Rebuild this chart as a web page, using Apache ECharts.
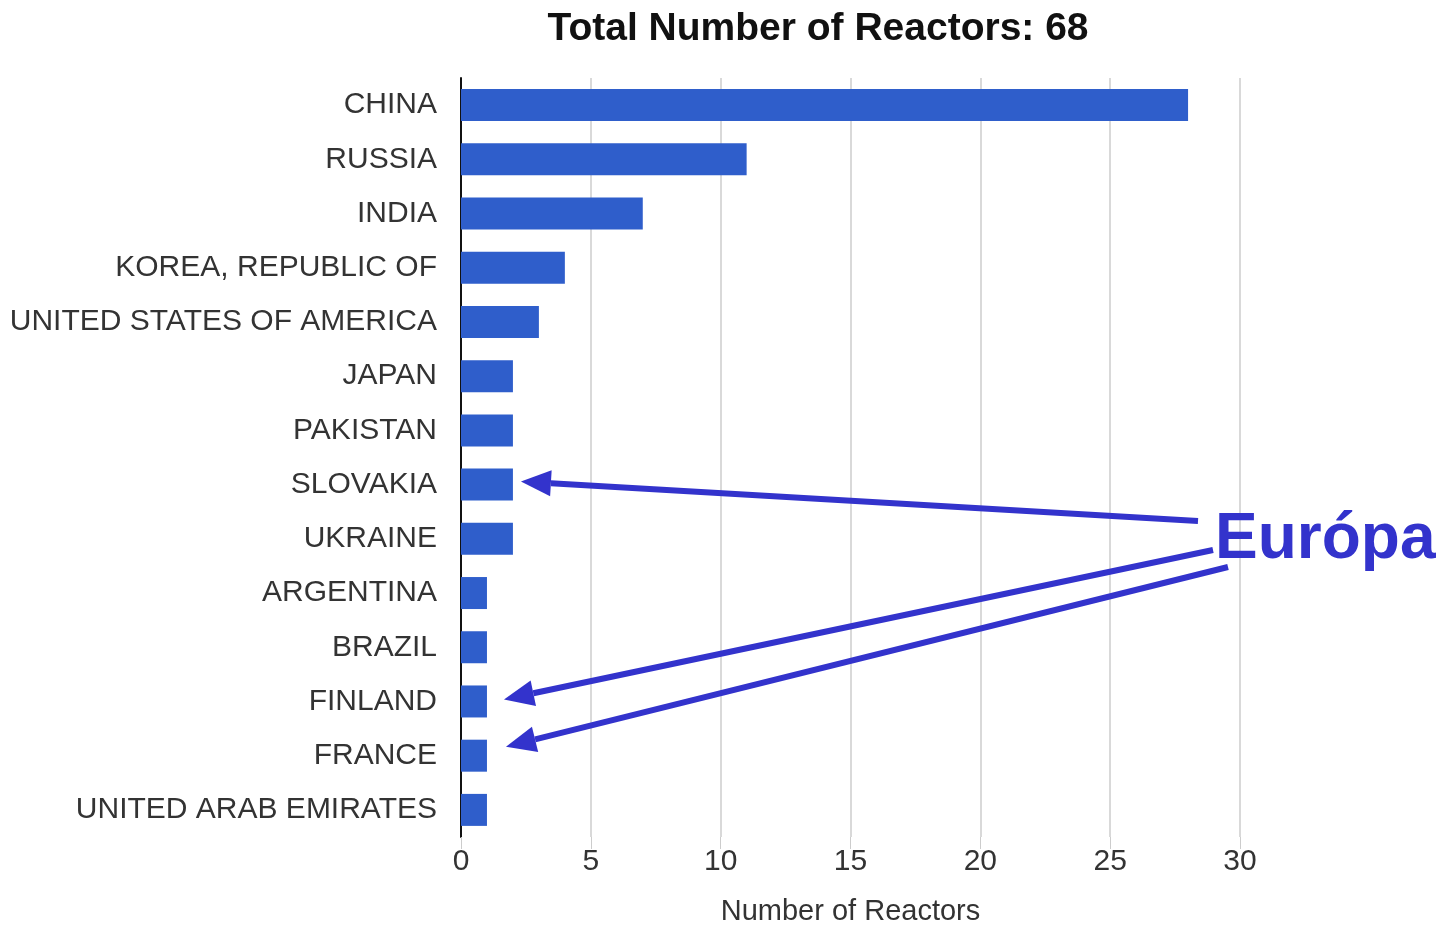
<!DOCTYPE html>
<html>
<head>
<meta charset="utf-8">
<script src="https://cdn.jsdelivr.net/npm/echarts@6/dist/echarts.min.js"></script>
<style>
html,body{margin:0;padding:0;background:#fff;}
#chart{width:1439px;height:926px;}
</style>
</head>
<body>
<div id="chart"></div>
<script>
var countries = ['CHINA','RUSSIA','INDIA','KOREA, REPUBLIC OF','UNITED STATES OF AMERICA','JAPAN','PAKISTAN','SLOVAKIA','UKRAINE','ARGENTINA','BRAZIL','FINLAND','FRANCE','UNITED ARAB EMIRATES'];
var reactors = [28,11,7,4,3,2,2,2,2,1,1,1,1,1];
var xTicks = [0,5,10,15,20,25,30];
var europeTargets = ['SLOVAKIA','FINLAND','FRANCE'];

var myChart = echarts.init(document.getElementById('chart'));
var option = {
	backgroundColor:'#fff',
	title:{
		text:'Total Number of Reactors: 68',
		left:813,
		textAlign:'center',
		top:5,
		textStyle:{fontFamily:'Liberation Sans',fontSize:39,fontWeight:'bold',color:'#111'}
	},
	grid:{left:461,right:199,top:78,bottom:89,containLabel:false,outerBoundsMode:'none'},
	xAxis:{
		type:'value',
		min:xTicks[0],
		max:xTicks[xTicks.length-1],
		interval:5,
		name:'Number of Reactors',
		nameLocation:'middle',
		nameGap:60,
		nameTextStyle:{fontFamily:'Liberation Sans',fontSize:29,color:'#333'},
		axisLine:{show:false},
		axisTick:{show:true,length:12,lineStyle:{color:'#ccc'}},
		axisLabel:{fontFamily:'Liberation Sans',fontSize:30,color:'#333',margin:10},
		splitLine:{show:true,lineStyle:{color:'#ccc',width:1.5}}
	},
	yAxis:{
		type:'category',
		inverse:true,
		data:countries,
		axisLine:{show:true,lineStyle:{color:'#111',width:2}},
		axisTick:{show:false},
		axisLabel:{fontFamily:'Liberation Sans',fontSize:30,color:'#333',margin:24}
	},
	series:[{
		type:'bar',
		data:reactors,
		barWidth:32,
		itemStyle:{color:'#2f5ecb'},
		silent:true
	}]
};
myChart.setOption(option);

// arrows for "Európa"
function arrow(from, to){
	var dx = to[0]-from[0], dy = to[1]-from[1];
	var len = Math.sqrt(dx*dx+dy*dy);
	var ux = dx/len, uy = dy/len;
	var hl = 30, hw = 13;
	var bx = to[0]-ux*hl, by = to[1]-uy*hl;
	var c = '#3333cc';
	return [
		{type:'line',shape:{x1:from[0],y1:from[1],x2:bx,y2:by},style:{stroke:c,lineWidth:6},z:100},
		{type:'polygon',shape:{points:[[to[0],to[1]],[bx-uy*hw,by+ux*hw],[bx+uy*hw,by-ux*hw]]},style:{fill:c},z:100}
	];
}
var starts = [[1198,521],[1213,550],[1228,567]];
var offsets = [[8,-3],[17,-2],[19,-9]];
var els = [];
europeTargets.forEach(function(name, i){
	var idx = countries.indexOf(name);
	var p = myChart.convertToPixel({gridIndex:0},[reactors[idx],name]);
	els = els.concat(arrow(starts[i],[p[0]+offsets[i][0],p[1]+offsets[i][1]]));
});
els.push({
	type:'text',
	left:1215,
	top:508,
	style:{
		text:'Európa',
		font:'bold 64px "Liberation Sans"',
		fill:'#3333cc',
		shadowColor:'rgba(0,0,0,0.35)',
		shadowBlur:4,
		shadowOffsetX:2,
		shadowOffsetY:3
	},
	z:100
});
myChart.setOption({graphic:els});
</script>
</body>
</html>
